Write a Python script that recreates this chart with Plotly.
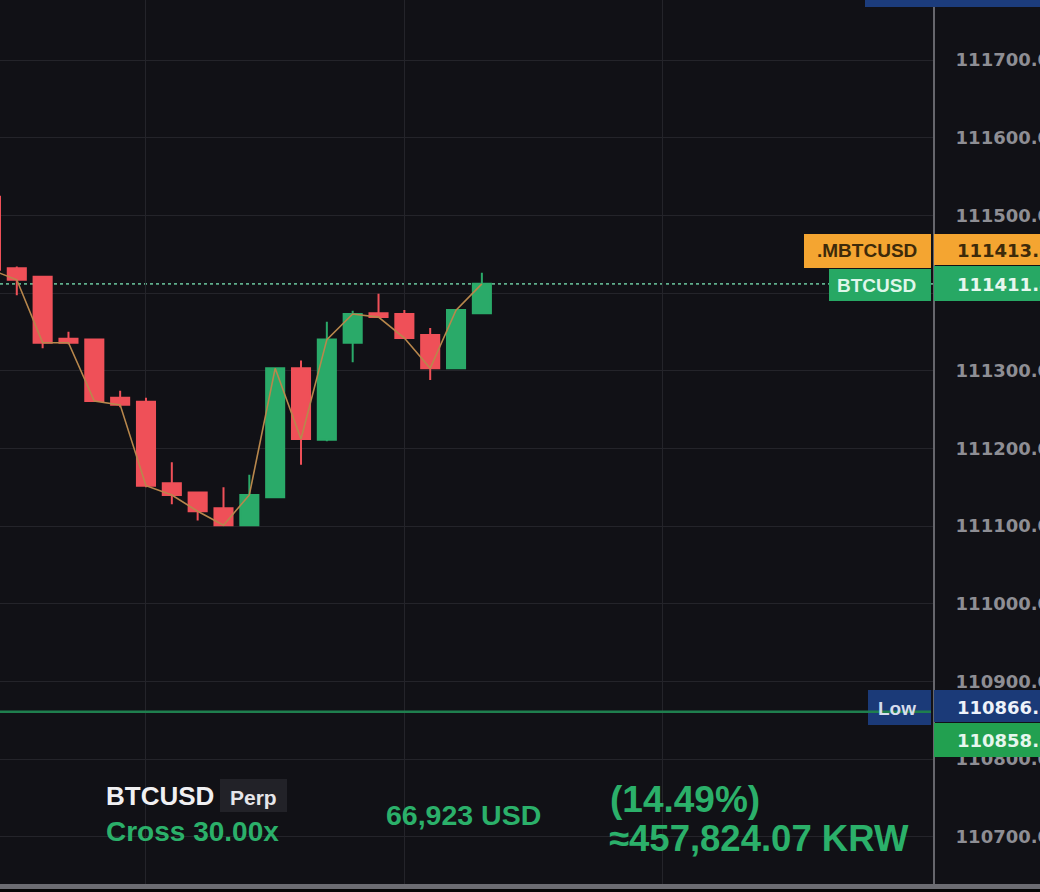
import plotly.graph_objects as go

# ---------------- data ----------------
candle_idx = list(range(-1, 19))
opens  = [111524, 111432, 111421, 111341, 111340, 111265, 111260, 111155, 111143, 111123,
          111101, 111137, 111303, 111211, 111336, 111374, 111373, 111346, 111303, 111374]
highs  = [111540, 111434, 111422, 111350, 111341, 111274, 111265, 111182, 111144, 111150,
          111166, 111304, 111313, 111363, 111377, 111399, 111378, 111355, 111379, 111426]
lows   = [111425, 111397, 111329, 111334, 111260, 111253, 111150, 111128, 111107, 111100,
          111100, 111136, 111179, 111209, 111311, 111368, 111341, 111288, 111302, 111373]
closes = [111430, 111417, 111336, 111336, 111261, 111256, 111152, 111140, 111119, 111101,
          111140, 111303, 111212, 111340, 111373, 111369, 111342, 111303, 111378, 111411.8]

y_ticks = [110700, 110800, 110900, 111000, 111100, 111200, 111300, 111400, 111500, 111600, 111700]
hidden_ticks = [111400]  # covered by the price label in the original
y_tick_text = ["" if v in hidden_ticks else f"{v:.1f}" for v in y_ticks]
x_grid = [5, 15, 25]

last_price = 111411.8
mark_price = 111413.8
low_price = 110861
low_label = 110866.1
liq_label = 110858.5

symbol = "BTCUSD"
mark_symbol = ".MBTCUSD"
contract = "Perp"
margin_mode = "Cross 30.00x"
position_value = "66,923 USD"
pnl_pct = "(14.49%)"
pnl_krw = "≈457,824.07 KRW"

# ---------------- style ----------------
BG = "#111116"
GRID = "#24242a"
RED = "#ef5058"
GREEN = "#2aaa69"
TEXT_GREEN = "#2bb06a"
ORANGE = "#f4a531"
BOX_GREEN = "#27a864"
BLUE = "#1b3a78"
LOW_LINE = "#1f7f4e"

W, H = 1040, 892
PLOT_W = 933


def px(x):
    return x / PLOT_W


def py(y):
    return 1 - y / H


fig = go.Figure()

fig.add_trace(go.Scatter(
    x=candle_idx, y=closes, mode="lines",
    line=dict(color="#b8874c", width=1.6),
    hoverinfo="skip", showlegend=False,
))

fig.add_trace(go.Candlestick(
    x=candle_idx, open=opens, high=highs, low=lows, close=closes,
    increasing=dict(line=dict(color=GREEN, width=2), fillcolor=GREEN),
    decreasing=dict(line=dict(color=RED, width=2), fillcolor=RED),
    whiskerwidth=0, hoverinfo="skip", showlegend=False,
))

shapes = []
# price line of last trade
shapes.append(dict(type="line", xref="paper", yref="y", x0=0, x1=1, y0=last_price, y1=last_price,
                   line=dict(color="#5fae8c", width=1.6, dash="dot"), layer="between"))
# bottom position panel
shapes.append(dict(type="rect", xref="paper", yref="paper", x0=px(70), x1=px(910), y0=py(860), y1=py(765),
                   fillcolor=BG, line=dict(width=0), layer="between"))
shapes.append(dict(type="rect", xref="paper", yref="paper", x0=px(220), x1=px(287), y0=py(812), y1=py(779),
                   fillcolor="#222228", line=dict(width=0), layer="above"))


def box(x0, x1, y0, y1, color):
    shapes.append(dict(type="rect", xref="paper", yref="paper", x0=px(x0), x1=px(x1),
                       y0=py(y1), y1=py(y0), fillcolor=color, line=dict(width=0), layer="above"))


box(804, 931, 234, 268, ORANGE)
box(934, 1045, 234, 265, ORANGE)
box(829, 931, 269, 301, BOX_GREEN)
box(934, 1045, 266, 301, BOX_GREEN)
box(868, 931, 690, 725, BLUE)
box(934, 1045, 690, 722, BLUE)
box(934, 1045, 723, 757, "#22a050")
box(865, 1045, -2, 7, "#1c3c7c")
# session low line (drawn over its own label box, under the text)
shapes.append(dict(type="line", xref="paper", yref="y", x0=0, x1=px(931), y0=low_price, y1=low_price,
                   line=dict(color=LOW_LINE, width=2.5), layer="above"))
# bottom border
box(-2, 1045, 884, 889, "#6c6c72")
box(-2, 1045, 889, 895, "#060607")

fig.update_layout(shapes=shapes)

anns = []


def ann(text, x, y, size, color, anchor="left", weight="bold", family="Liberation Sans"):
    anns.append(dict(text=text, xref="paper", yref="paper", x=px(x), y=py(y), xanchor=anchor,
                     yanchor="middle", showarrow=False,
                     font=dict(family=family, size=size, color=color, weight=weight)))


ann(mark_symbol, 919, 251, 19, "#3d2a0a", anchor="right")
ann(f"{mark_price:.1f}", 955, 250, 18, "#3d2a0a", family="DejaVu Sans")
ann(symbol, 918, 285, 19, "#dff6ea", anchor="right")
ann(f"{last_price:.1f}", 955, 284, 18, "#e6f7ee", family="DejaVu Sans")
ann("Low", 918, 708, 19, "#d6dcec", anchor="right")
ann(f"{low_label:.1f}", 955, 707, 18, "#eef2fa", family="DejaVu Sans")
ann(f"{liq_label:.1f}", 955, 740, 18, "#e6f7ee", family="DejaVu Sans")

ann(symbol, 104, 796, 26, "#f0f0f2")
ann(contract, 228, 797, 21, "#e6e6ea")
ann(margin_mode, 104, 831, 28, TEXT_GREEN)
ann(position_value, 384, 815, 28.5, TEXT_GREEN)
ann(pnl_pct, 608, 799, 37, TEXT_GREEN)
ann(pnl_krw, 607, 838, 36.5, TEXT_GREEN)

fig.update_layout(
    width=W, height=H,
    margin=dict(l=0, r=W - PLOT_W, t=0, b=0, autoexpand=False),
    paper_bgcolor=BG, plot_bgcolor=BG,
    showlegend=False, hovermode=False,
    boxgap=0,
    annotations=anns,
    xaxis=dict(range=[-0.65, 35.46], tickvals=x_grid, showticklabels=False, showgrid=True,
               gridcolor=GRID, gridwidth=1, zeroline=False, showline=False, automargin=False,
               rangeslider=dict(visible=False), fixedrange=True),
    yaxis=dict(range=[110628.8, 111777.25], side="right", tickvals=y_ticks, ticktext=y_tick_text,
               showgrid=True, gridcolor=GRID, gridwidth=1, zeroline=False, automargin=False,
               showline=True, linecolor="#66666c", linewidth=2, ticks="",
               ticklabelstandoff=17,
               tickfont=dict(family="DejaVu Sans", size=18, color="#8e8e94", weight="bold"),
               fixedrange=True),
)

fig.write_html(
    "out.html",
    config={"displayModeBar": False},
    post_script="document.body.style.margin='0';document.body.style.overflow='hidden';"
                "document.body.style.background='#111116';",
)
